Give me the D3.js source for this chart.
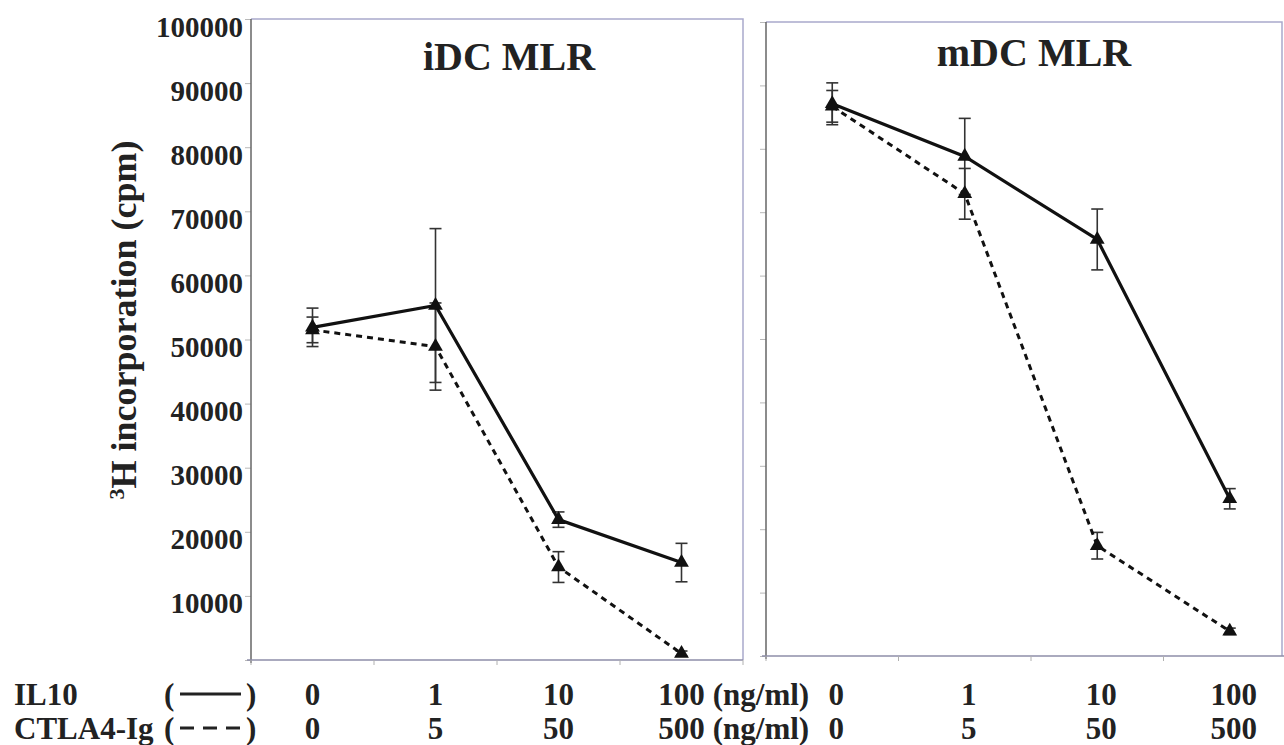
<!DOCTYPE html>
<html>
<head>
<meta charset="utf-8">
<script src="https://cdn.jsdelivr.net/npm/d3@7"></script>
<style>
  html, body { margin: 0; padding: 0; background: #fff; }
  svg { display: block; }
  text { font-family: "Liberation Serif", "Times New Roman", serif; font-weight: bold; fill: #222; }
</style>
</head>
<body>
<svg id="chart" width="1284" height="745"></svg>
<script>
// ---------------- data ----------------
const il10Doses   = ["0", "1", "10", "100"];
const ctla4Doses  = ["0", "5", "50", "500"];
const yTickValues = [0, 10000, 20000, 30000, 40000, 50000, 60000, 70000, 80000, 90000, 100000];

const iDC_IL10      = [51900, 55300, 21900, 15200];
const iDC_IL10_err  = [3000, 12000, 1200, 3000];
const iDC_CTLA4     = [51500, 48900, 14500, 1000];
const iDC_CTLA4_err = [2000, 6800, 2400, 400];

const mDC_IL10      = [87100, 78800, 65700, 24800];
const mDC_IL10_err  = [3300, 6000, 4800, 1600];
const mDC_CTLA4     = [86700, 72900, 17400, 3900];
const mDC_CTLA4_err = [2500, 4000, 2100, 500];

// ---------------- drawing ----------------
const svg = d3.select("#chart");

const panels = [
  { title: "iDC MLR", x0: 251, x1: 743, frameRight: 743, yBottom: 660, yTop: 19, titleX: 509, titleY: 70,
    il10: iDC_IL10, il10Err: iDC_IL10_err, ctla4: iDC_CTLA4, ctla4Err: iDC_CTLA4_err, tickLabels: true, unit: true },
  { title: "mDC MLR", x0: 766, x1: 1296, frameRight: 1282, yBottom: 656, yTop: 22, titleX: 1034, titleY: 66,
    il10: mDC_IL10, il10Err: mDC_IL10_err, ctla4: mDC_CTLA4, ctla4Err: mDC_CTLA4_err, tickLabels: false, unit: false }
];

const idx = d3.range(il10Doses.length);

panels.forEach(p => {
  const x = d3.scaleBand().domain(idx).range([p.x0, p.x1]);
  const cx = i => x(i) + x.bandwidth() / 2;
  const y = d3.scaleLinear().domain([0, 100000]).range([p.yBottom, p.yTop]);
  const g = svg.append("g");

  // frame: top + right (light bluish)
  g.append("path")
    .attr("d", `M${p.x0},${y(100000)} L${p.frameRight},${y(100000)} L${p.frameRight},${y(0)}`)
    .attr("fill", "none").attr("stroke", "#a9a9cc").attr("stroke-width", 1.5);

  // y axis
  const yAxis = d3.axisLeft(y).tickValues(yTickValues).tickSize(6).tickPadding(2)
    .tickFormat(d => (p.tickLabels && d > 0) ? d3.format("d")(d) : "");
  const ya = g.append("g").attr("transform", `translate(${p.x0},0)`).call(yAxis);
  ya.select(".domain").remove();
  ya.selectAll(".tick line").attr("stroke", "#b8b8b8").attr("stroke-width", 1);
  ya.selectAll(".tick text")
    .attr("dy", null).attr("y", 17)
    .style("font-size", "29px").style("font-family", '"Liberation Serif", serif').style("font-weight", "bold")
    .attr("fill", "#222");
  g.append("line").attr("x1", p.x0).attr("x2", p.x0).attr("y1", y(100000)).attr("y2", y(0) + 3)
    .attr("stroke", "#666").attr("stroke-width", 1.5);

  // x axis baseline
  g.append("line").attr("x1", p.x0 - 4).attr("x2", Math.min(p.x1, 1284)).attr("y1", y(0)).attr("y2", y(0))
    .attr("stroke", "#8e8ea8").attr("stroke-width", 1.5);
  // x ticks at band boundaries
  d3.range(il10Doses.length + 1).forEach(i => {
    const xx = i < il10Doses.length ? x(i) : p.x1;
    if (xx > 1284) return;
    g.append("line").attr("x1", xx).attr("x2", xx).attr("y1", y(0)).attr("y2", y(0) + 5)
      .attr("stroke", "#b0b0b0").attr("stroke-width", 1);
  });

  // title
  g.append("text").attr("x", p.titleX).attr("y", p.titleY).attr("text-anchor", "middle")
    .style("font-size", "40px").text(p.title);

  // error bars
  const drawErr = (vals, errs) => {
    vals.forEach((v, i) => {
      const e = errs[i];
      const xx = cx(i);
      g.append("line").attr("x1", xx).attr("x2", xx).attr("y1", y(v + e)).attr("y2", y(v - e))
        .attr("stroke", "#333").attr("stroke-width", 1.6);
      [v + e, v - e].forEach(t => {
        g.append("line").attr("x1", xx - 6).attr("x2", xx + 6).attr("y1", y(t)).attr("y2", y(t))
          .attr("stroke", "#333").attr("stroke-width", 1.6);
      });
    });
  };

  const line = d3.line().x((d, i) => cx(i)).y(d => y(d));

  // CTLA4-Ig dashed
  drawErr(p.ctla4, p.ctla4Err);
  g.append("path").datum(p.ctla4).attr("d", line).attr("fill", "none")
    .attr("stroke", "#111").attr("stroke-width", 3).attr("stroke-dasharray", "6,5");
  // IL10 solid
  drawErr(p.il10, p.il10Err);
  g.append("path").datum(p.il10).attr("d", line).attr("fill", "none")
    .attr("stroke", "#111").attr("stroke-width", 3.2);

  // markers
  const tri = d3.symbol().type(d3.symbolTriangle).size(95);
  [p.ctla4, p.il10].forEach(series => {
    g.selectAll(null).data(series).enter().append("path")
      .attr("d", tri)
      .attr("transform", (d, i) => `translate(${cx(i)},${y(d)})`)
      .attr("fill", "#111");
  });

  // dose labels under axis
  [[il10Doses, 705], [ctla4Doses, 739]].forEach(([labels, by]) => {
    labels.forEach((lab, i) => {
      const t = g.append("text").attr("x", cx(i) + (p.unit ? 0 : 4)).attr("y", by)
        .attr("text-anchor", "middle").style("font-size", "31px").text(lab);
      if (p.unit && i === labels.length - 1) {
        const bb = t.node().getBBox();
        g.append("text").attr("x", bb.x + bb.width + 8).attr("y", by)
          .style("font-size", "31px").text("(ng/ml)");
      }
    });
  });
});

// y-axis title with superscript
const yTitle = svg.append("text")
  .attr("transform", "translate(136,320) rotate(-90)")
  .attr("text-anchor", "middle")
  .style("font-size", "36px");
yTitle.append("tspan").attr("baseline-shift", "super").style("font-size", "22px").text("3");
yTitle.append("tspan").text("H incorporation (cpm)");

// legend rows
const legendRows = [
  { name: "IL10", by: 705, dash: null },
  { name: "CTLA4-Ig", by: 739, dash: "14,9" }
];
legendRows.forEach(r => {
  svg.append("text").attr("x", 14).attr("y", r.by).style("font-size", "31px").text(r.name);
  svg.append("text").attr("x", 164).attr("y", r.by).style("font-size", "31px").text("(");
  svg.append("text").attr("x", 246).attr("y", r.by).style("font-size", "31px").text(")");
  svg.append("line").attr("x1", 180).attr("x2", 241).attr("y1", r.by - 11).attr("y2", r.by - 11)
    .attr("stroke", "#222").attr("stroke-width", 3.2)
    .attr("stroke-dasharray", r.dash);
});
</script>
</body>
</html>
